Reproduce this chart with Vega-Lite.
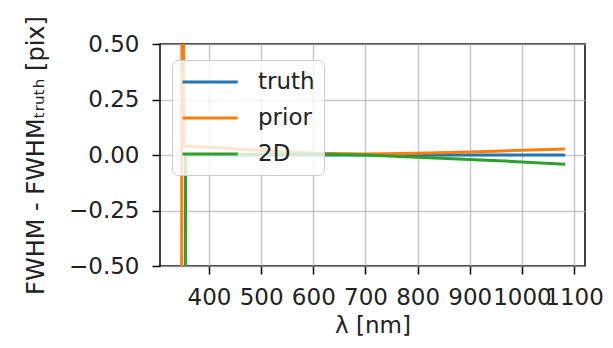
{
  "$schema": "https://vega.github.io/schema/vega-lite/v6.json",
  "width": 425,
  "height": 222,
  "autosize": {"type": "none"},
  "padding": {"left": 160, "top": 44, "right": 28, "bottom": 82},
  "background": "white",
  "config": {
    "font": "DejaVu Sans",
    "view": {"stroke": "#000000", "strokeWidth": 1.5},
    "axis": {
      "labelFont": "DejaVu Sans",
      "titleFont": "DejaVu Sans",
      "labelFontSize": 23,
      "titleFontSize": 23,
      "labelColor": "#222222",
      "titleColor": "#222222",
      "titleFontWeight": "normal",
      "tickColor": "#000000",
      "tickSize": 8,
      "tickWidth": 1.5,
      "domain": false,
      "gridColor": "#b0b0b0",
      "gridWidth": 1.5,
      "gridOpacity": 0.7,
      "labelOverlap": false,
      "labelBound": false,
      "labelFlush": false
    },
    "legend": {
      "labelFont": "DejaVu Sans",
      "labelFontSize": 23,
      "labelColor": "#222222"
    }
  },
  "data": {
    "values": [
      {"series": "truth", "lam": 352, "dfwhm": 0.0},
      {"series": "truth", "lam": 700, "dfwhm": 0.0},
      {"series": "truth", "lam": 1083, "dfwhm": 0.0},
      {"series": "prior", "lam": 347, "dfwhm": -2.0},
      {"series": "prior", "lam": 348.5, "dfwhm": 2.0},
      {"series": "prior", "lam": 352, "dfwhm": 0.04},
      {"series": "prior", "lam": 400, "dfwhm": 0.035},
      {"series": "prior", "lam": 500, "dfwhm": 0.02},
      {"series": "prior", "lam": 600, "dfwhm": 0.008},
      {"series": "prior", "lam": 700, "dfwhm": 0.004},
      {"series": "prior", "lam": 800, "dfwhm": 0.008},
      {"series": "prior", "lam": 900, "dfwhm": 0.014},
      {"series": "prior", "lam": 1000, "dfwhm": 0.021},
      {"series": "prior", "lam": 1083, "dfwhm": 0.027},
      {"series": "2D", "lam": 354, "dfwhm": -2.0},
      {"series": "2D", "lam": 355, "dfwhm": 0.0},
      {"series": "2D", "lam": 400, "dfwhm": 0.002},
      {"series": "2D", "lam": 500, "dfwhm": 0.004},
      {"series": "2D", "lam": 600, "dfwhm": 0.004},
      {"series": "2D", "lam": 700, "dfwhm": 0.0},
      {"series": "2D", "lam": 800, "dfwhm": -0.01},
      {"series": "2D", "lam": 900, "dfwhm": -0.02},
      {"series": "2D", "lam": 1000, "dfwhm": -0.031},
      {"series": "2D", "lam": 1083, "dfwhm": -0.042}
    ]
  },
  "transform": [
    {"calculate": "indexof(['truth','prior','2D'], datum.series)", "as": "order"}
  ],
  "mark": {"type": "line", "clip": true, "strokeWidth": 3},
  "encoding": {
    "x": {
      "field": "lam", "type": "quantitative",
      "scale": {"domain": [306, 1121], "nice": false, "zero": false},
      "axis": {"values": [400, 500, 600, 700, 800, 900, 1000, 1100], "format": "d", "title": "λ [nm]", "labelPadding": 12, "titlePadding": 5, "grid": true}
    },
    "y": {
      "field": "dfwhm", "type": "quantitative",
      "scale": {"domain": [-0.5, 0.5], "nice": false, "zero": false},
      "axis": {"values": [-0.5, -0.25, 0, 0.25, 0.5], "format": ".2f", "title": "FWHM - FWHMₜᵣᵤₜₕ [pix]", "titleFontSize": 24, "labelPadding": 13, "titlePadding": 20, "grid": true}
    },
    "color": {
      "field": "series", "type": "nominal",
      "scale": {"domain": ["truth", "prior", "2D"], "range": ["#1f77b4", "#ff7f0e", "#2ca02c"]},
      "legend": {
        "title": null,
        "orient": "none",
        "legendX": 12,
        "legendY": 16,
        "symbolType": "M-1,0H3.8",
        "symbolSize": 529,
        "symbolStrokeWidth": 3,
        "labelOffset": 51,
        "rowPadding": 11,
        "padding": 9,
        "fillColor": "rgba(255,255,255,0.8)",
        "strokeColor": "#cccccc",
        "cornerRadius": 6
      }
    },
    "order": {"field": "order", "type": "quantitative"},
    "detail": {"field": "series"}
  }
}
